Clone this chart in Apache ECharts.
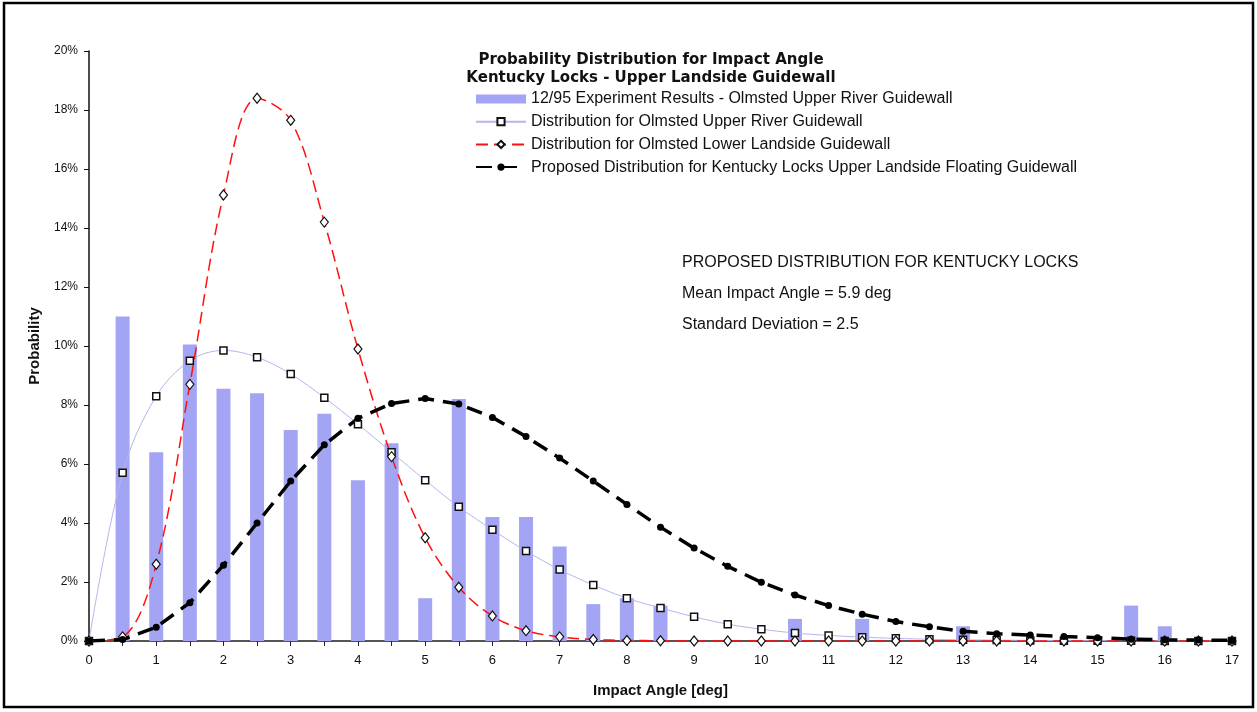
<!DOCTYPE html>
<html>
<head>
<meta charset="utf-8">
<script src="https://cdn.jsdelivr.net/npm/echarts@6/dist/echarts.min.js"></script>
<style>
  html, body { margin: 0; padding: 0; background: #fff; }
  #main { width: 1257px; height: 712px; }
</style>
</head>
<body>
<div id="main"></div>
<script>
// impact angle (deg) for the curves
var angles = [0, 0.5, 1, 1.5, 2, 2.5, 3, 3.5, 4, 4.5, 5, 5.5, 6, 6.5, 7, 7.5, 8, 8.5,
  9, 9.5, 10, 10.5, 11, 11.5, 12, 12.5, 13, 13.5, 14, 14.5, 15, 15.5, 16, 16.5, 17];

// probability in %
var upperRiver = [0, 5.7, 8.3, 9.5, 9.85, 9.62, 9.05, 8.25, 7.35, 6.4, 5.45, 4.55, 3.77, 3.05, 2.42, 1.9, 1.45, 1.12,
  0.82, 0.57, 0.4, 0.27, 0.19, 0.13, 0.09, 0.06, 0.04, 0.03, 0.02, 0.01, 0.01, 0.005, 0, 0, 0];
var lowerLandside = [0, 0.14, 2.6, 8.7, 15.12, 18.4, 17.65, 14.2, 9.9, 6.25, 3.5, 1.82, 0.85, 0.35, 0.14, 0.05, 0.02, 0.01,
  0, 0, 0, 0, 0, 0, 0, 0, 0, 0, 0, 0, 0, 0, 0, 0, 0];
var proposed = [0, 0.05, 0.47, 1.3, 2.57, 4.0, 5.42, 6.65, 7.55, 8.05, 8.22, 8.03, 7.58, 6.93, 6.2, 5.42, 4.63, 3.86,
  3.15, 2.53, 1.99, 1.56, 1.2, 0.91, 0.66, 0.48, 0.33, 0.25, 0.2, 0.15, 0.11, 0.06, 0.04, 0.03, 0.02];

// 12/95 experiment results
var barAngles = [0.5, 1, 1.5, 2, 2.5, 3, 3.5, 4, 4.5, 5, 5.5, 6, 6.5, 7, 7.5, 8, 8.5, 10.5, 11.5, 13, 15.5, 16];
var barValues = [11.0, 6.4, 10.05, 8.55, 8.4, 7.15, 7.7, 5.45, 6.7, 1.45, 8.2, 4.2, 4.2, 3.2, 1.25, 1.45, 1.2, 0.75, 0.75, 0.5, 1.2, 0.5];

var seriesNames = [
  '12/95 Experiment Results - Olmsted Upper River Guidewall',
  'Distribution for Olmsted Upper River Guidewall',
  'Distribution for Olmsted Lower Landside Guidewall',
  'Proposed Distribution for Kentucky Locks Upper Landside Floating Guidewall'
];

function pairs(xs, ys) {
  var d = [];
  for (var i = 0; i < xs.length; i++) d.push([xs[i], ys[i]]);
  return d;
}

var chart = echarts.init(document.getElementById('main'));
var option = {
  backgroundColor: '#fff',
  animation: false,
  grid: { left: 89, right: 25, top: 51, bottom: 71 },
  legend: {
    orient: 'vertical',
    left: 470,
    top: 86,
    itemWidth: 50,
    itemHeight: 9,
    itemGap: 6.7,
    textStyle: { fontFamily: 'Liberation Sans', fontSize: 16, color: '#111', lineHeight: 16 },
    data: [
      { name: seriesNames[0], icon: 'rect' },
      seriesNames[1],
      seriesNames[2],
      seriesNames[3]
    ]
  },
  graphic: [
    { type: 'rect', shape: { x: 4, y: 3, width: 1249, height: 704 },
      style: { fill: 'none', stroke: '#000', lineWidth: 2.5 }, silent: true },
    { type: 'text', x: 651, y: 60, style: { text: 'Probability Distribution for Impact Angle',
      font: 'bold 15px "DejaVu Sans"', fill: '#111', textAlign: 'center', textVerticalAlign: 'middle' } },
    { type: 'text', x: 651, y: 78, style: { text: 'Kentucky Locks - Upper Landside Guidewall',
      font: 'bold 15px "DejaVu Sans"', fill: '#111', textAlign: 'center', textVerticalAlign: 'middle' } },
    { type: 'text', x: 682, y: 263, style: { text: 'PROPOSED DISTRIBUTION FOR KENTUCKY LOCKS',
      font: '16px "Liberation Sans"', fill: '#111', textVerticalAlign: 'middle' } },
    { type: 'text', x: 682, y: 294, style: { text: 'Mean Impact Angle = 5.9 deg',
      font: '16px "Liberation Sans"', fill: '#111', textVerticalAlign: 'middle' } },
    { type: 'text', x: 682, y: 325, style: { text: 'Standard Deviation = 2.5',
      font: '16px "Liberation Sans"', fill: '#111', textVerticalAlign: 'middle' } }
  ],
  xAxis: {
    type: 'value',
    min: 0,
    max: 17,
    interval: 0.5,
    name: 'Impact Angle [deg]',
    nameLocation: 'middle',
    nameGap: 42,
    nameTextStyle: { fontFamily: 'Liberation Sans', fontWeight: 'bold', fontSize: 15, color: '#111' },
    axisLine: { lineStyle: { color: '#555', width: 2 } },
    axisTick: { length: 5, lineStyle: { color: '#222', width: 1 } },
    axisLabel: {
      fontFamily: 'Liberation Sans', fontSize: 13, color: '#111', margin: 13,
      formatter: function (v) { return v % 1 === 0 ? String(v) : ''; }
    },
    splitLine: { show: false }
  },
  yAxis: {
    type: 'value',
    min: 0,
    max: 20,
    interval: 2,
    name: 'Probability',
    nameLocation: 'middle',
    nameGap: 47,
    nameTextStyle: { fontFamily: 'Liberation Sans', fontWeight: 'bold', fontSize: 15, color: '#111' },
    axisLine: { show: true, lineStyle: { color: '#111', width: 1.5 } },
    axisTick: { show: true, length: 5, lineStyle: { color: '#111' } },
    axisLabel: { fontFamily: 'Liberation Sans', fontSize: 12, color: '#111', margin: 11, formatter: '{value}%' },
    splitLine: { show: false }
  },
  series: [
    {
      name: seriesNames[0],
      type: 'bar',
      barWidth: 14,
      itemStyle: { color: '#a4a4f5' },
      data: pairs(barAngles, barValues)
    },
    {
      name: seriesNames[1],
      type: 'line',
      smooth: 0.35,
      symbol: 'rect',
      symbolSize: 7,
      lineStyle: { color: '#b4b4ee', width: 1 },
      itemStyle: { color: '#fff', borderColor: '#111', borderWidth: 1.5 },
      data: pairs(angles, upperRiver)
    },
    {
      name: seriesNames[2],
      type: 'line',
      smooth: 0.35,
      symbol: 'diamond',
      symbolSize: [8, 10],
      lineStyle: { color: '#ff1010', width: 1.5, type: [12, 6] },
      itemStyle: { color: '#fff', borderColor: '#111', borderWidth: 1.2 },
      data: pairs(angles, lowerLandside)
    },
    {
      name: seriesNames[3],
      type: 'line',
      symbol: 'circle',
      symbolSize: 7,
      lineStyle: { color: '#000', width: 3.5, type: [16, 9] },
      itemStyle: { color: '#000' },
      data: pairs(angles, proposed)
    }
  ]
};
chart.setOption(option);
</script>
</body>
</html>
